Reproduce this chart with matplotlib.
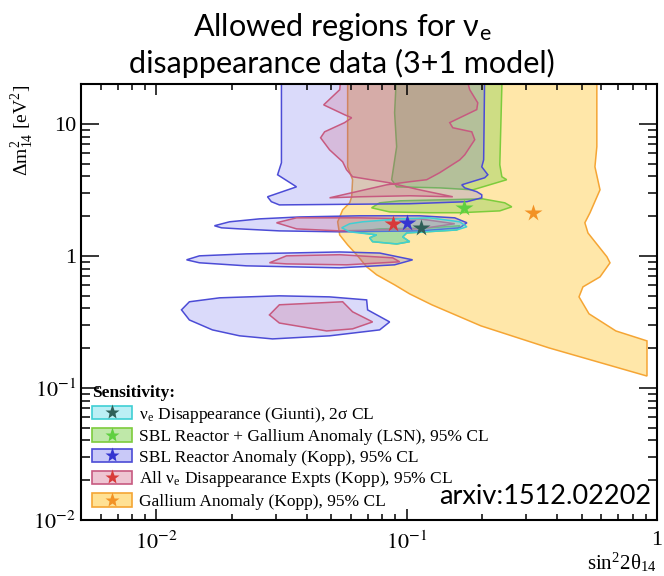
import matplotlib
matplotlib.use("Agg")
import matplotlib.pyplot as plt
from matplotlib.patches import Patch
from matplotlib.lines import Line2D
from matplotlib.colors import to_rgba
from matplotlib.legend_handler import HandlerTuple

plt.rcParams['mathtext.fontset'] = 'stix'
plt.rcParams['font.family'] = ['Liberation Serif', 'DejaVu Serif']

# Gallium anomaly (Kopp), 95% CL
gallium_x = [0.0581, 0.0581, 0.0608, 0.0603, 0.0592, 0.0555, 0.0530, 0.0540, 0.0581, 0.0631, 0.0692,
             0.0759, 0.0895, 0.1028, 0.126, 0.198, 0.370, 0.912, 0.912, 0.685, 0.535, 0.488, 0.506,
             0.592, 0.649, 0.631, 0.530, 0.515, 0.540, 0.592, 0.565, 0.575, 0.575]
gallium_y = [25, 4.72, 3.77, 2.80, 2.52, 2.23, 1.81, 1.44, 1.21, 1.02, 0.826,
             0.718, 0.603, 0.515, 0.426, 0.295, 0.201, 0.123, 0.227, 0.270, 0.364, 0.489, 0.582,
             0.693, 0.885, 0.983, 1.49, 1.78, 2.12, 3.16, 4.72, 6.70, 25]

# SBL reactor anomaly (Kopp), 95% CL -- four islands
reactor_a_x = [0.0316, 0.0316, 0.0305, 0.0363, 0.0278, 0.0288, 0.0310, 0.1028, 0.174, 0.1995, 0.1995,
               0.1905, 0.1706, 0.166, 0.182, 0.205, 0.211, 0.1995, 0.203, 0.205]
reactor_a_y = [25, 5.07, 4.11, 3.33, 2.80, 2.57, 2.43, 2.48, 2.57, 2.75, 2.90,
               3.06, 3.27, 3.45, 3.64, 3.90, 4.11, 4.72, 5.33, 25]
reactor_b_x = [0.01706, 0.0196, 0.0258, 0.0373, 0.0649, 0.1127, 0.1556, 0.174, 0.163, 0.1127, 0.054,
               0.031, 0.0215, 0.0182]
reactor_b_y = [1.69, 1.81, 1.905, 1.97, 2.01, 2.01, 1.94, 1.78, 1.63, 1.545, 1.52,
               1.545, 1.60, 1.63]
reactor_c_x = [0.0132, 0.01486, 0.0229, 0.054, 0.078, 0.1056, 0.0895, 0.054, 0.0229, 0.01486]
reactor_c_y = [0.933, 1.0, 1.035, 1.07, 1.05, 0.933, 0.855, 0.811, 0.84, 0.886]
reactor_d_x = [0.0126, 0.01355, 0.0179, 0.031, 0.0492, 0.0692, 0.0698, 0.0855, 0.078, 0.0492,
               0.0291, 0.0215, 0.01675, 0.01355]
reactor_d_y = [0.390, 0.449, 0.481, 0.498, 0.489, 0.464, 0.390, 0.316, 0.275, 0.248,
               0.235, 0.248, 0.275, 0.327]

# All nu_e disappearance experiments (Kopp), 95% CL
alldis_a_x = [0.055, 0.054, 0.0466, 0.0565, 0.0603, 0.0565, 0.047, 0.0453, 0.0492, 0.0555, 0.0575,
              0.0608, 0.0855, 0.1127, 0.1528, 0.1028, 0.0649, 0.0492, 0.0832, 0.1028, 0.1202,
              0.1355, 0.163, 0.1706, 0.187, 0.182, 0.1528, 0.1486, 0.1905, 0.1923, 0.1786, 0.1706]
alldis_a_y = [25, 18.1, 13.9, 11.7, 11.1, 10.2, 8.69, 7.83, 6.35, 5.15, 4.49,
              3.97, 3.57, 3.16, 2.80, 2.85, 2.80, 2.75, 3.45, 3.64, 3.77,
              4.26, 5.33, 5.82, 7.57, 8.69, 9.33, 10.2, 12.8, 14.4, 18.1, 25]
alldis_b_x = [0.0302, 0.0363, 0.0649, 0.1127, 0.1556, 0.1127, 0.054, 0.0363]
alldis_b_y = [1.78, 1.94, 1.94, 1.905, 1.75, 1.60, 1.545, 1.60]
alldis_c_x = [0.0283, 0.0331, 0.054, 0.0879, 0.0938, 0.0575, 0.0331]
alldis_c_y = [0.886, 1.0, 1.02, 0.966, 0.901, 0.855, 0.869]
alldis_d_x = [0.0283, 0.031, 0.0555, 0.0608, 0.0731, 0.0608, 0.0479, 0.031]
alldis_d_y = [0.357, 0.426, 0.449, 0.377, 0.316, 0.280, 0.270, 0.310]

# SBL reactor + gallium anomaly (LSN), 95% CL
lsn_a_x = [0.0912, 0.0895, 0.0912, 0.0871, 0.0912, 0.1355, 0.1837, 0.251, 0.240, 0.2355, 0.240, 0.240]
lsn_a_y = [25, 12.1, 6.70, 3.77, 3.33, 3.27, 3.16, 3.77, 3.97, 4.89, 19.1, 25]
lsn_b_x = [0.0724, 0.078, 0.0938, 0.2014, 0.2466, 0.263, 0.2355, 0.163, 0.1236, 0.0855]
lsn_b_y = [2.31, 2.52, 2.61, 2.70, 2.52, 2.35, 2.19, 2.12, 2.12, 2.15]
lsn_c_x = [0.0619, 0.078, 0.1236, 0.163, 0.1585, 0.1, 0.0964, 0.1028, 0.0912, 0.0731, 0.0711, 0.0759]
lsn_c_y = [1.52, 1.60, 1.63, 1.69, 1.57, 1.49, 1.39, 1.28, 1.23, 1.28, 1.37, 1.44]

# nu_e disappearance (Giunti), 2 sigma
giunti_x = [0.055, 0.0592, 0.0667, 0.0938, 0.1236, 0.163, 0.174, 0.1585, 0.1, 0.0964, 0.1028,
            0.0912, 0.0731, 0.0711, 0.0759, 0.0592]
giunti_y = [1.63, 1.75, 1.81, 1.905, 1.94, 1.81, 1.66, 1.57, 1.49, 1.39, 1.28,
            1.23, 1.28, 1.37, 1.44, 1.52]

# best fit points
best_x = {'giunti': 0.1138, 'lsn': 0.169, 'reactor': 0.100, 'alldis': 0.0879, 'gallium': 0.319}
best_y = {'giunti': 1.63, 'lsn': 2.31, 'reactor': 1.78, 'alldis': 1.75, 'gallium': 2.12}

labels = [r"ν$_\mathregular{e}$ Disappearance (Giunti), 2σ CL",
          "SBL Reactor + Gallium Anomaly (LSN), 95% CL",
          "SBL Reactor Anomaly (Kopp), 95% CL",
          r"All ν$_\mathregular{e}$ Disappearance Expts (Kopp), 95% CL",
          "Gallium Anomaly (Kopp), 95% CL"]

# (fill, edge, star)
colors = {
    'giunti': ((0.35, 0.85, 0.90), '#3fcfd4', '#2f5f58'),
    'lsn': ((0.45, 0.80, 0.25), '#7dcc3c', '#5fd040'),
    'reactor': ((0.35, 0.35, 0.92), '#4c4cd6', '#3535d0'),
    'alldis': ((0.80, 0.30, 0.45), '#c75a80', '#d83a3a'),
    'gallium': ((1.0, 0.76, 0.12), '#f5a534', '#f29225'),
}
alphas = {'giunti': 0.30, 'lsn': 0.35, 'reactor': 0.22, 'alldis': 0.22, 'gallium': 0.38}

fig = plt.figure(figsize=(6.64, 5.76), dpi=100)
ax = fig.add_axes([81 / 664, 1 - 520 / 576, 576 / 664, 436 / 576])
ax.set_xscale('log')
ax.set_yscale('log')


def region(key, xs, ys):
    fc, ec, _ = colors[key]
    ax.fill(xs, ys, fc=to_rgba(fc, alphas[key]), ec=ec, lw=1.1)


region('gallium', gallium_x, gallium_y)
region('lsn', lsn_a_x, lsn_a_y)
region('lsn', lsn_b_x, lsn_b_y)
region('lsn', lsn_c_x, lsn_c_y)
region('reactor', reactor_a_x, reactor_a_y)
region('reactor', reactor_b_x, reactor_b_y)
region('reactor', reactor_c_x, reactor_c_y)
region('reactor', reactor_d_x, reactor_d_y)
region('alldis', alldis_a_x, alldis_a_y)
region('alldis', alldis_b_x, alldis_b_y)
region('alldis', alldis_c_x, alldis_c_y)
region('alldis', alldis_d_x, alldis_d_y)
region('giunti', giunti_x, giunti_y)

for key in ['gallium', 'lsn', 'alldis', 'reactor', 'giunti']:
    ax.plot(best_x[key], best_y[key], marker='*', ms=13, color=colors[key][2], mec='none', ls='')

ax.set_xlim(0.005, 1)
ax.set_ylim(0.01, 20)

ax.set_xticks([0.01, 0.1, 1])
ax.set_xticklabels([r"$10^{-2}$", r"$10^{-1}$", "1"])
ax.set_yticks([0.01, 0.1, 1, 10])
ax.set_yticklabels([r"$10^{-2}$", r"$10^{-1}$", "1", "10"])
ax.tick_params(which='both', direction='in', top=True, right=True, width=1.1, labelsize=16)
ax.tick_params(axis='y', which='major', length=13)
ax.tick_params(axis='y', which='minor', length=6.5)
ax.tick_params(axis='x', which='major', length=8, pad=8)
ax.tick_params(axis='x', which='minor', length=4.5)
for s in ax.spines.values():
    s.set_linewidth(1.5)

handles = []
for key in ['giunti', 'lsn', 'reactor', 'alldis', 'gallium']:
    fc, ec, sc = colors[key]
    handles.append((Patch(fc=to_rgba(fc, alphas[key] + 0.1), ec=ec, lw=1.2),
                    Line2D([], [], marker='*', ms=11, color=sc, mec='none', ls='')))
leg = ax.legend(handles, labels, handler_map={tuple: HandlerTuple(ndivide=1)},
                loc='upper left', bbox_to_anchor=(0.019, 0.31), frameon=False,
                title='Sensitivity:', title_fontproperties={'weight': 'bold', 'size': 12.5},
                fontsize=12.5, borderpad=0, borderaxespad=0, handlelength=2.3, handleheight=0.8,
                labelspacing=0.22, handletextpad=0.4)
leg._legend_box.align = 'left'

ax.text(0.99, 0.025, "arxiv:1512.02202", transform=ax.transAxes, ha='right', va='bottom',
        fontsize=19.5, family=['Lato', 'DejaVu Sans'])

fig.text(22 / 664, 1 - 84 / 576, r"Δm$^\mathregular{2}_\mathregular{14}$ [eV$^\mathregular{2}$]",
         rotation=90, ha='center', va='top', fontsize=14)
fig.text(657 / 664, 1 - 575 / 576, r"sin$^\mathregular{2}$2θ$_\mathregular{14}$",
         ha='right', va='bottom', fontsize=15)

fig.text(342 / 664, 1 - 36 / 576, r"Allowed regions for ν$_\mathregular{e}$", ha='center',
         va='baseline', fontsize=22, family=['Lato', 'DejaVu Sans'])
fig.text(342 / 664, 1 - 73 / 576, "disappearance data (3+1 model)", ha='center',
         va='baseline', fontsize=22, family=['Lato', 'DejaVu Sans'])

fig.savefig("out.png", dpi=100)
